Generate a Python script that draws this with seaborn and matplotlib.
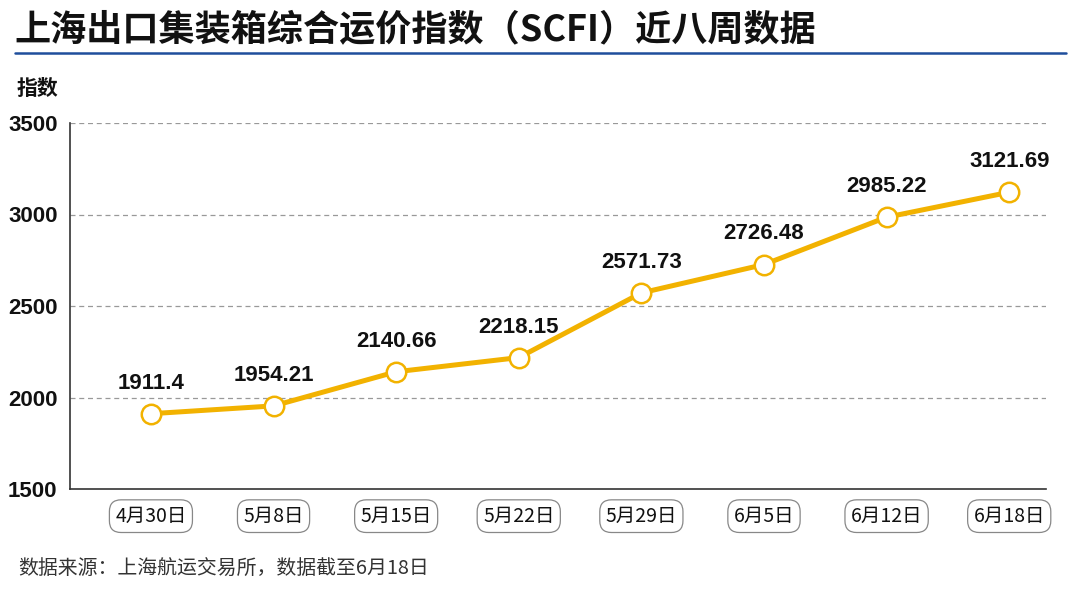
import matplotlib
matplotlib.use("Agg")
import matplotlib.pyplot as plt
import seaborn as sns
import pandas as pd

# data
dates = ["4月30日", "5月8日", "5月15日", "5月22日", "5月29日", "6月5日", "6月12日", "6月18日"]
scfi = [1911.4, 1954.21, 2140.66, 2218.15, 2571.73, 2726.48, 2985.22, 3121.69]
value_labels = ["1911.4", "1954.21", "2140.66", "2218.15", "2571.73", "2726.48", "2985.22", "3121.69"]
y_ticks = [1500, 2000, 2500, 3000, 3500]

title = "上海出口集装箱综合运价指数（SCFI）近八周数据"
y_title = "指数"
source = "数据来源：上海航运交易所，数据截至6月18日"

sns.set_theme(style="white")
plt.rcParams['font.family'] = ['Noto Sans CJK SC', 'DejaVu Sans']
num_font = dict(family="Liberation Sans", fontweight="bold")

line_color = "#F2B200"

df = pd.DataFrame({"idx": range(len(dates)), "value": scfi})

fig = plt.figure(figsize=(10.8, 6), dpi=100)
ax = fig.add_axes([70 / 1080, 1 - 489 / 600, (1046 - 70) / 1080, (489 - 123) / 600])

sns.lineplot(data=df, x="idx", y="value", ax=ax, color=line_color, linewidth=3.6,
             marker="o", markersize=14, markerfacecolor="white",
             markeredgecolor=line_color, markeredgewidth=1.8, zorder=3)

for i, (v, lab) in enumerate(zip(scfi, value_labels)):
    ax.annotate(lab, (i, v), xytext=(0, 22), textcoords="offset points",
                ha="center", va="center", fontsize=16, color="#111111", **num_font)

ax.set_xlim(-0.66, 7.3)
ax.set_ylim(1500, 3500)
ax.set_yticks(y_ticks)
ax.set_yticklabels([str(t) for t in y_ticks], fontsize=16, color="#111111", **num_font)
ax.set_xticks(range(len(dates)))
ax.set_xticklabels(dates, fontsize=14, color="#111111")
for lbl in ax.get_xticklabels():
    lbl.set_bbox(dict(boxstyle="round,pad=0.3,rounding_size=0.6", fc="white",
                      ec="#888888", lw=0.9))
ax.tick_params(axis="x", length=0, pad=12)
ax.tick_params(axis="y", length=0, pad=9)
ax.set_xlabel("")
ax.set_ylabel("")

for y in y_ticks[1:]:
    ax.axhline(y, color="#999999", lw=0.9, ls=(0, (4, 3)), zorder=1)

for s in ["top", "right"]:
    ax.spines[s].set_visible(False)
for s in ["left", "bottom"]:
    ax.spines[s].set_color("#333333")
    ax.spines[s].set_linewidth(1.2)

fig.text(14 / 1080, 1 - 30 / 600, title, fontsize=26, fontweight="heavy",
         va="center", ha="left", color="#111111")
fig.add_artist(plt.Line2D([15 / 1080, 1066 / 1080], [1 - 53 / 600, 1 - 53 / 600],
                          color="#1F4E9C", lw=1.8))
fig.text(17 / 1080, 1 - 88 / 600, y_title, fontsize=15, fontweight="bold",
         va="center", ha="left", color="#111111")
fig.text(18 / 1080, 1 - 569 / 600, source, fontsize=14.3, va="center", ha="left",
         color="#333333")

fig.savefig("out.png", dpi=100, facecolor="white")
